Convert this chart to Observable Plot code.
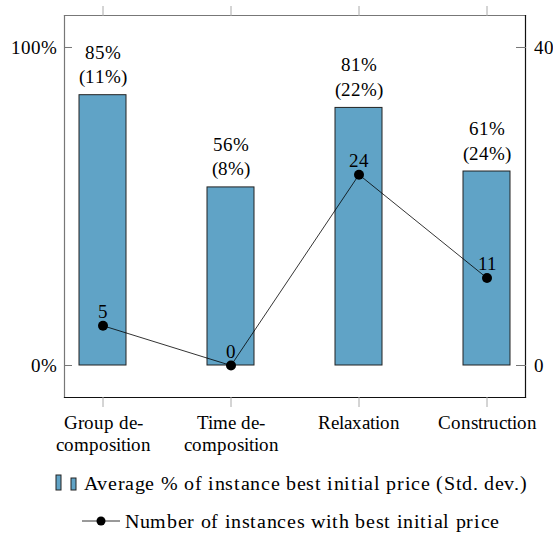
<!DOCTYPE html>
<html><head><meta charset="utf-8">
<style>
@font-face{font-family:"PalSerif";src:local("Liberation Serif"),local("LiberationSerif-Regular"),local("LiberationSerif");}
body{margin:0;background:#fff;font-family:"PalSerif","Liberation Serif",serif;}
#legend{width:553px;box-sizing:border-box;padding-left:29px;margin-top:2px;font-size:20px;letter-spacing:0.65px;color:#000;}
#legend .row{display:flex;justify-content:center;align-items:center;height:38px;white-space:nowrap;}
#legend svg{display:block;margin-right:5px;}
</style>
<script src="https://cdn.jsdelivr.net/npm/d3@7"></script>
<script src="https://cdn.jsdelivr.net/npm/@observablehq/plot@0.6"></script>
</head><body><div id="chart"></div>
<div id="legend"></div>
<script>
const categories = ["Group de-\ncomposition", "Time de-\ncomposition", "Relaxation", "Construction"];
const avgPercent = [85, 56, 81, 61];
const stdDev = [11, 8, 22, 24];
const instanceCounts = [5, 0, 24, 11];
const leftTicks = [0, 100];
const rightTicks = [0, 40];
const legendLabels = ["Average % of instance best initial price (Std. dev.)", "Number of instances with best initial price"];

const rightMax = rightTicks[rightTicks.length - 1];
const k = leftTicks[leftTicks.length - 1] / rightMax;
const data = categories.map((c, i) => ({cat: c, avg: avgPercent[i], sd: stdDev[i], n: instanceCounts[i], nScaled: instanceCounts[i] * k}));
const barColor = "#60a3c6";
const FONT = "PalSerif, 'Liberation Serif', serif";

const chart = Plot.plot({
  width: 553, height: 462,
  marginLeft: 64, marginRight: 28, marginTop: 15, marginBottom: 65,
  style: {fontFamily: FONT, fontSize: "19px", background: "white", color: "black"},
  x: {domain: categories, paddingInner: 0.633, paddingOuter: 0.117, label: null, axis: null},
  y: {domain: [-10.06, 110.06], axis: null},
  marks: [
    Plot.barY(data, {x: "cat", y: "avg", fill: barColor, stroke: "#222", strokeWidth: 1}),
    Plot.text(data, {x: "cat", y: "avg", text: d => `${d.avg}%\n(${d.sd}%)`, lineAnchor: "bottom", dy: -12, lineHeight: 1.3}),
    Plot.line(data, {x: "cat", y: "nScaled", stroke: "black", strokeWidth: 0.8}),
    Plot.dot(data, {x: "cat", y: "nScaled", r: 5, fill: "black"}),
    Plot.text(data, {x: "cat", y: "nScaled", text: d => String(d.n), dy: -14}),
    Plot.frame({anchor: "left", stroke: "#777", strokeWidth: 1.2}),
    Plot.frame({anchor: "top", stroke: "#777", strokeWidth: 1.2}),
    Plot.frame({anchor: "right", stroke: "#111", strokeWidth: 1.2}),
    Plot.frame({anchor: "bottom", stroke: "#111", strokeWidth: 1.2}),
    Plot.axisX({anchor: "top", tickSize: 10, tickFormat: () => "", stroke: "#aaa", label: null}),
    Plot.axisX({anchor: "bottom", tickSize: 10, tickFormat: () => "", stroke: "#aaa", label: null}),
    Plot.axisX({anchor: "bottom", tickSize: 0, tickPadding: 16, lineHeight: 1.15, fill: "black", label: null}),
    Plot.axisY({anchor: "left", ticks: leftTicks, tickSize: -8, tickFormat: () => "", stroke: "#777", label: null}),
    Plot.axisY({anchor: "left", ticks: leftTicks, tickSize: 0, tickPadding: 8, tickFormat: d => d + "%", fill: "black", label: null}),
    Plot.axisY({anchor: "right", ticks: rightTicks.map(t => t * k), tickSize: -10, tickFormat: () => "", stroke: "#777", label: null}),
    Plot.axisY({anchor: "right", ticks: rightTicks.map(t => t * k), tickSize: 0, tickPadding: 8, tickFormat: d => String(d / k), fill: "black", label: null})
  ]
});
document.getElementById("chart").appendChild(chart);

const legend = document.getElementById("legend");
legend.innerHTML = `
<div class="row"><svg width="24" height="18"><rect x="1" y="1" width="5" height="15" fill="${barColor}" stroke="#222"/><rect x="16" y="4" width="5" height="12" fill="${barColor}" stroke="#222"/></svg><span>${legendLabels[0]}</span></div>
<div class="row"><svg width="38" height="12"><line x1="0" y1="6" x2="38" y2="6" stroke="black" stroke-width="0.8"/><circle cx="19" cy="6" r="4.5" fill="black"/></svg><span>${legendLabels[1]}</span></div>`;
</script>
</body></html>
